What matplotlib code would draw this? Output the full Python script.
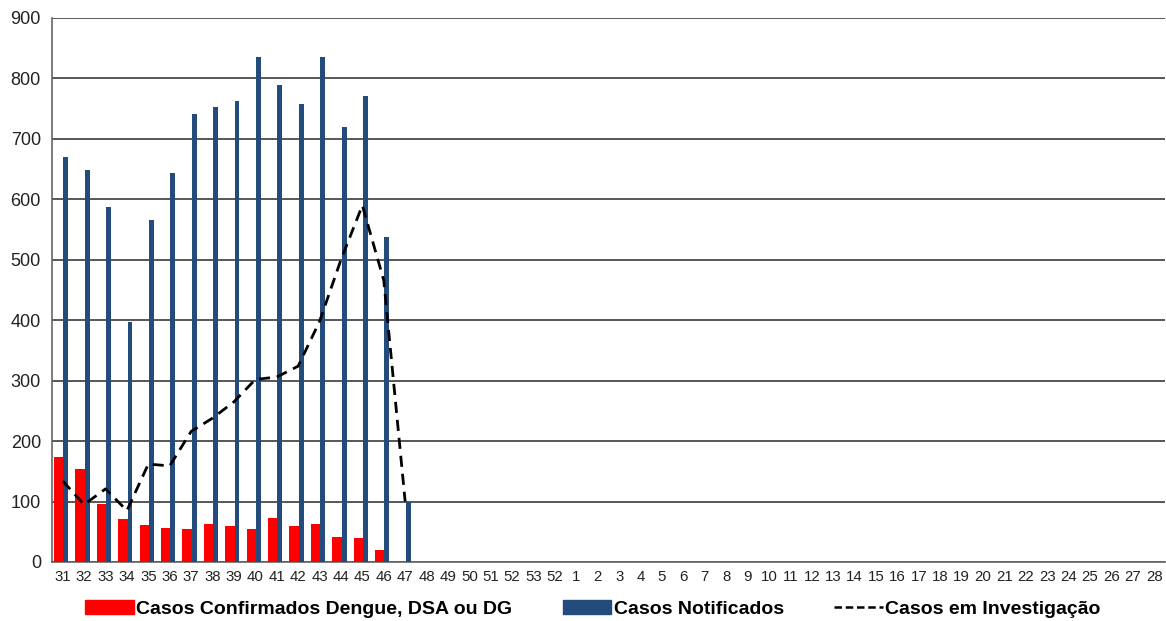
import matplotlib
matplotlib.use("Agg")
import matplotlib.pyplot as plt
from matplotlib.patches import Patch
from matplotlib.lines import Line2D
import numpy as np

weeks = ["31","32","33","34","35","36","37","38","39","40","41","42","43","44","45","46","47",
         "48","49","50","51","52","53","52"] + [str(i) for i in range(1, 29)]

confirmados = [174,154,96,71,61,57,55,63,59,55,72,59,63,42,40,20,0]
notificados = [670,648,588,397,566,644,742,752,763,836,789,758,836,720,771,538,100]
investigacao = [134,95,121,85,162,159,216,238,265,302,306,324,398,500,590,466,100]

yticks = [0,100,200,300,400,500,600,700,800,900]

label_conf = "Casos Confirmados Dengue, DSA ou DG"
label_not = "Casos Notificados"
label_inv = "Casos em Investigação"

RED = "#FF0000"
BLUE = "#234B7C"

plt.rcParams['font.family'] = ['Liberation Sans', 'DejaVu Sans']

fig = plt.figure(figsize=(11.66, 6.21), dpi=100)
ax = fig.add_axes([52/1166, 1-562/621, (1165-52)/1166, (562-18)/621])

n = len(weeks)
x = np.arange(n)
xd = np.arange(len(confirmados))

ax.bar(xd - 0.19, confirmados, width=0.44, color=RED, zorder=3)
ax.bar(xd + 0.145, notificados, width=0.23, color=BLUE, zorder=3)
ax.plot(np.arange(len(investigacao)), investigacao, color="black", linestyle=(0, (4, 2.5)),
        linewidth=2, zorder=4)

ax.set_xlim(-0.5, n - 0.5)
ax.set_ylim(0, 900)
ax.set_yticks(yticks)
ax.set_yticklabels([str(v) for v in yticks], fontsize=13, color="#222222")
ax.set_xticks(x)
ax.set_xticklabels(weeks, fontsize=10.8, color="#222222")
ax.tick_params(axis='both', length=0, pad=8)
ax.tick_params(axis='x', pad=6)
ax.yaxis.grid(True, color="#2a2a2a", linewidth=1.1, zorder=0)
ax.set_axisbelow(True)
for s in ["top", "right"]:
    ax.spines[s].set_visible(False)
ax.spines["left"].set_color("#666666")
ax.spines["bottom"].set_color("#666666")
ax.spines["left"].set_linewidth(1.2)
ax.spines["bottom"].set_linewidth(1.2)

handles = [
    Patch(facecolor=RED, edgecolor=RED, label=label_conf),
    Patch(facecolor=BLUE, edgecolor=BLUE, label=label_not),
    Line2D([0], [0], color="black", linestyle=(0, (3, 1.5)), linewidth=1.8, label=label_inv),
]
fig.legend(handles=handles, loc="center", bbox_to_anchor=(0.5085, 1-609/621), ncol=3,
           frameon=False, prop={'weight': 'bold', 'size': 14}, handlelength=2.5,
           handleheight=0.68, handletextpad=0.12, columnspacing=2.6)

fig.savefig("out.png", dpi=100)
